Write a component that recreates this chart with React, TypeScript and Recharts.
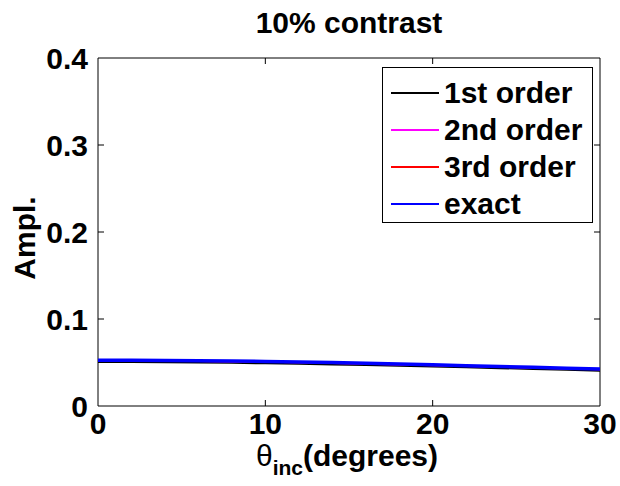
import React from 'react';
import { LineChart, Line, XAxis, YAxis, ReferenceLine, ReferenceArea, Legend } from 'recharts';

const theta = [0, 2, 4, 6, 8, 10, 12, 14, 16, 18, 20, 22, 24, 26, 28, 30];
const firstOrder = [0.0505, 0.0505, 0.0503, 0.05, 0.0496, 0.0491, 0.0485, 0.0478, 0.047, 0.0462, 0.0453, 0.0444, 0.0435, 0.0426, 0.0416, 0.0406];
const secondOrder = [0.0521, 0.0521, 0.0519, 0.0516, 0.0512, 0.0508, 0.0502, 0.0495, 0.0487, 0.0478, 0.0469, 0.046, 0.0451, 0.0441, 0.0431, 0.0421];
const thirdOrder = [0.0523, 0.0523, 0.0521, 0.0518, 0.0514, 0.051, 0.0504, 0.0497, 0.0489, 0.048, 0.0471, 0.0462, 0.0453, 0.0443, 0.0433, 0.0423];
const exact = [0.0525, 0.0525, 0.0523, 0.052, 0.0516, 0.0512, 0.0506, 0.0499, 0.0491, 0.0482, 0.0473, 0.0464, 0.0455, 0.0445, 0.0435, 0.0425];

const xTicks = [0, 10, 20, 30];
const yTicks = [0, 0.1, 0.2, 0.3, 0.4];
const seriesNames = ['1st order', '2nd order', '3rd order', 'exact'];
const seriesColors = ['#000000', '#ff00ff', '#ff0000', '#0000ff'];
const title = '10% contrast';

const data = theta.map((t, i) => ({
  theta: t,
  first: firstOrder[i],
  second: secondOrder[i],
  third: thirdOrder[i],
  exact: exact[i],
}));

const W = 620;
const H = 486;
const PL = 98, PR = 20, PT = 58, PB = 80;
const plotW = W - PL - PR;
const plotH = H - PT - PB;
const xMin = 0, xMax = 30, yMin = 0, yMax = 0.4;
const tickPx = 6;
const tx = (tickPx / plotW) * (xMax - xMin);
const ty = (tickPx / plotH) * (yMax - yMin);

const FONT = '"Liberation Sans", Arial, sans-serif';
const FS = 30;
const tickStyle = { fontFamily: FONT, fontWeight: 700, fontSize: FS, fill: '#000' };

const LegendBox = () => (
  <div
    style={{
      position: 'absolute',
      left: 382,
      top: 67,
      width: 211,
      height: 156,
      boxSizing: 'border-box',
      border: '1px solid #000',
      background: '#fff',
      fontFamily: FONT,
      fontWeight: 700,
      fontSize: FS,
      paddingTop: 6,
    }}
  >
    {seriesNames.map((n, i) => (
      <div key={n} style={{ display: 'flex', alignItems: 'center', height: 37 }}>
        <div style={{ marginLeft: 8, width: 48, height: 2, background: seriesColors[i] }} />
        <span style={{ marginLeft: 5, lineHeight: '37px' }}>{n}</span>
      </div>
    ))}
  </div>
);

const XLabel = (props: any) => {
  const vb = props.viewBox || {};
  const cx = (vb.x ?? PL) + (vb.width ?? plotW) / 2 - 2;
  return (
    <text x={cx} y={466} textAnchor="middle" style={{ fontFamily: FONT, fontWeight: 700, fontSize: FS }} fill="#000">
      <tspan fontWeight={400}>θ</tspan>
      <tspan fontSize={21} dy={9}>inc</tspan>
      <tspan dy={-9}>(degrees)</tspan>
    </text>
  );
};

const YLabel = (props: any) => {
  const vb = props.viewBox || {};
  const cy = (vb.y ?? PT) + (vb.height ?? plotH) / 2 + 6;
  const bx = 35;
  return (
    <text
      x={bx}
      y={cy}
      textAnchor="middle"
      transform={`rotate(-90, ${bx}, ${cy})`}
      style={{ fontFamily: FONT, fontWeight: 700, fontSize: FS }}
      fill="#000"
    >
      Ampl.
    </text>
  );
};

export default function App() {
  return (
    <div style={{ position: 'absolute', left: 0, top: 0, width: W, height: H, background: '#fff', fontFamily: FONT }}>
      <div
        style={{
          position: 'absolute',
          left: PL,
          width: plotW,
          top: 8,
          lineHeight: '30px',
          textAlign: 'center',
          fontWeight: 700,
          fontSize: FS,
          color: '#000',
        }}
      >
        {title}
      </div>
      <LineChart width={W} height={H} data={data} margin={{ top: PT, right: PR, bottom: 0, left: 0 }}>
        <XAxis
          dataKey="theta"
          type="number"
          domain={[xMin, xMax]}
          ticks={xTicks}
          tickLine={false}
          axisLine={false}
          tick={tickStyle}
          tickMargin={1}
          height={PB}
          interval={0}
          label={<XLabel />}
        />
        <YAxis
          type="number"
          domain={[yMin, yMax]}
          ticks={yTicks}
          tickLine={false}
          axisLine={false}
          tick={tickStyle}
          tickMargin={4}
          width={PL}
          interval={0}
          tickFormatter={(v: number) => (v === 0 ? '0' : v.toFixed(1))}
          label={<YLabel />}
        />
        <ReferenceArea x1={xMin} x2={xMax} y1={yMin} y2={yMax} fill="none" stroke="#000" strokeWidth={1} ifOverflow="visible" />
        {xTicks
          .filter((t) => t > xMin && t < xMax)
          .map((t) => (
            <ReferenceLine key={'xb' + t} segment={[{ x: t, y: yMin }, { x: t, y: yMin + ty }]} stroke="#000" />
          ))}
        {xTicks
          .filter((t) => t > xMin && t < xMax)
          .map((t) => (
            <ReferenceLine key={'xt' + t} segment={[{ x: t, y: yMax }, { x: t, y: yMax - ty }]} stroke="#000" />
          ))}
        {yTicks
          .filter((t) => t > yMin && t < yMax)
          .map((t) => (
            <ReferenceLine key={'yl' + t} segment={[{ x: xMin, y: t }, { x: xMin + tx, y: t }]} stroke="#000" />
          ))}
        {yTicks
          .filter((t) => t > yMin && t < yMax)
          .map((t) => (
            <ReferenceLine key={'yr' + t} segment={[{ x: xMax, y: t }, { x: xMax - tx, y: t }]} stroke="#000" />
          ))}
        <Line dataKey="first" name={seriesNames[0]} stroke={seriesColors[0]} strokeWidth={2} dot={false} isAnimationActive={false} />
        <Line dataKey="second" name={seriesNames[1]} stroke={seriesColors[1]} strokeWidth={2} dot={false} isAnimationActive={false} />
        <Line dataKey="third" name={seriesNames[2]} stroke={seriesColors[2]} strokeWidth={2} dot={false} isAnimationActive={false} />
        <Line dataKey="exact" name={seriesNames[3]} stroke={seriesColors[3]} strokeWidth={3.5} dot={false} isAnimationActive={false} />
        <Legend content={() => null} />
      </LineChart>
      <LegendBox />
    </div>
  );
}
